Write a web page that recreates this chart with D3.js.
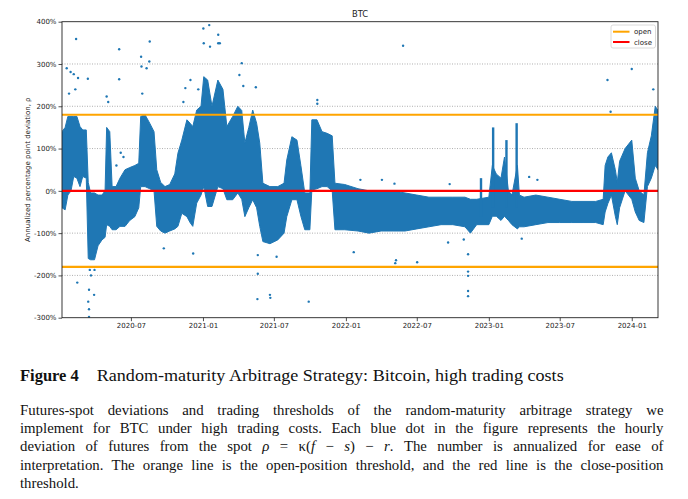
<!DOCTYPE html>
<html><head><meta charset="utf-8">
<script src="https://cdn.jsdelivr.net/npm/d3@7"></script>
<style>body{margin:0;background:#fff}svg{display:block}</style>
</head><body><svg id="c" width="688" height="499"></svg>
<script>
// ---------- data ----------
const bandDates = ["2020-01-07","2020-01-15","2020-01-22","2020-01-30","2020-02-06","2020-02-14","2020-02-22","2020-02-29","2020-03-09","2020-03-14","2020-03-20","2020-03-30","2020-04-08","2020-04-18","2020-04-26","2020-04-30","2020-05-08","2020-05-14","2020-05-24","2020-06-03","2020-06-16","2020-06-28","2020-07-11","2020-07-21","2020-07-26","2020-08-06","2020-08-18","2020-08-29","2020-09-05","2020-09-15","2020-09-26","2020-10-08","2020-10-21","2020-10-29","2020-11-08","2020-11-21","2020-11-29","2020-12-06","2020-12-16","2020-12-27",
"2021-01-03","2021-01-13","2021-01-24","2021-02-08","2021-02-21","2021-03-03","2021-03-18","2021-03-31","2021-04-10","2021-04-18","2021-04-28","2021-05-08","2021-05-18","2021-05-26","2021-06-03","2021-06-21","2021-07-11","2021-07-27","2021-08-03","2021-08-16","2021-08-29","2021-09-08","2021-09-18","2021-10-01","2021-10-06","2021-10-19","2021-11-01","2021-11-14","2021-11-27","2021-12-04","2021-12-29",
"2022-02-01","2022-03-01","2022-04-01","2022-05-01","2022-06-01","2022-07-01","2022-08-01","2022-09-01","2022-10-01","2022-11-01","2022-11-15","2022-12-01","2023-01-01","2023-01-10","2023-01-20","2023-02-01","2023-02-10","2023-02-20","2023-03-01","2023-03-15","2023-03-20","2023-04-01","2023-05-01","2023-06-01","2023-07-01","2023-08-01","2023-09-01","2023-10-01","2023-10-20","2023-10-25","2023-11-01","2023-11-10","2023-11-20","2023-11-25","2023-12-01","2023-12-15","2024-01-01","2024-01-10","2024-01-20","2024-02-01","2024-02-10","2024-02-20","2024-03-01","2024-03-08"];
const bandHigh = [140,150,176,176,176,176,152,144,144,20,-5,-5,-10,-10,0,150,140,10,10,30,50,55,60,65,176,180,160,140,50,20,10,15,40,89,120,168,160,152,191,200,
270,262,200,262,240,152,176,200,190,113,150,191,160,113,18,10,10,18,73,128,120,60,-5,-5,168,168,140,136,130,18,15,
5,0,0,0,-5,-10,-15,-15,-15,-15,-20,-20,-15,60,40,30,80,0,-10,60,-10,-15,-10,-15,-20,-25,-25,-25,-20,60,80,90,50,20,70,100,120,30,0,-10,90,130,200,190];
const bandLow = [-40,-45,-10,0,34,30,10,34,30,-160,-163,-163,-130,-116,-110,-80,-84,-92,-92,-84,-84,-70,-61,-40,10,10,5,0,-84,-95,-100,-95,-90,-84,-53,-61,-75,-84,-29,-10,
10,-37,-37,10,5,-21,-21,-5,-20,-61,-40,-21,-40,-84,-120,-125,-116,-100,-61,-21,-21,-60,-92,-92,2,5,10,10,0,-92,-92,
-95,-100,-95,-95,-95,-90,-85,-80,-80,-85,-100,-80,-80,-60,-60,-70,-60,-70,-80,-90,-85,-85,-80,-75,-75,-75,-75,-75,-80,-50,-30,-10,-60,-80,-40,0,-20,-50,-70,-75,10,30,60,50];

const spikeDates = ["2022-12-12","2023-01-12","2023-02-15","2023-03-13"];
const spikeTop = [30,150,120,160];
const spikeBottom = [-60,-40,-40,-40];

const outlierDates = ["2020-02-12","2020-01-19","2020-01-29","2020-02-06","2020-02-17","2020-03-13","2020-02-15","2020-03-18","2020-03-16","2020-03-14","2020-03-16","2020-03-16","2020-03-29","2020-03-30","2020-03-21","2020-06-01","2020-06-01","2020-04-30","2020-07-27","2020-08-18","2020-07-28","2020-08-10","2020-08-17","2020-11-17","2020-11-30","2020-09-23","2020-12-07","2021-01-02","2021-01-17","2021-01-03","2021-02-09","2021-02-09","2021-01-19","2021-02-13","2021-04-10","2021-04-04","2021-05-16","2021-04-14","2021-05-21","2021-05-20","2021-06-21","2021-06-22","2021-09-28","2021-07-08","2021-10-20","2021-10-20","2022-05-27","2022-01-21","2022-05-07","2022-05-09","2022-07-02","2022-11-09","2022-11-09","2022-11-09","2022-11-09","2022-11-09","2023-10-31","2023-11-08","2024-01-01","2024-02-25","2022-10-29","2023-03-26","2022-09-19","2021-05-21","2020-06-05","2020-06-12","2020-05-25","2022-02-07","2022-04-03","2022-05-05","2022-09-23","2023-04-14","2023-05-05","2020-01-25","2020-02-10","2020-05-04","2020-07-30","2020-11-12","2020-12-20"];
const outlierValues = [359,290,281,276,267,265,-217,-187,-234,-262,-280,-298,-246,-187,-200,335,264,223,317,353,294,290,306,243,262,-136,-148,384,392,349,369,349,341,349,302,274,245,248,-196,-256,-246,-253,-262,-156,215,206,343,-145,-171,-164,-169,-191,-201,-237,-249,-150,262,187,288,240,-115,-113,-122,-152,90,80,60,26,26,17,16,33,26,230,240,210,230,210,240];

const thresholdNames = ["open","close"];
const thresholdLevels = [180, 0];
const thresholdColors = ["#ffa500","#ff0000"];

const yTicks = [-300,-200,-100,0,100,200,300,400];
const xTickLabels = ["2020-07","2021-01","2021-07","2022-01","2022-07","2023-01","2023-07","2024-01"];

const chartTitle = "BTC";
const yLabel = "Annualized percentage point deviation, ρ";
const headingBold = "Figure 4";
const headingText = "Random-maturity Arbitrage Strategy: Bitcoin, high trading costs";
const captionLines = [
  "Futures-spot deviations and trading thresholds of the random-maturity arbitrage strategy we",
  "implement for BTC under high trading costs.  Each blue dot in the figure represents the hourly",
  "deviation of futures from the spot _ρ_ = κ(_f_ − _s_) − _r_.  The number is annualized for ease of",
  "interpretation. The orange line is the open-position threshold, and the red line is the close-position",
  "threshold."
];

// ---------- drawing ----------
const parse = d3.utcParse("%Y-%m-%d");
const svg = d3.select("#c");
const L = 62, R = 658, T = 21.7, B = 317.7;
const x = d3.scaleUtc().domain([parse("2020-01-07"), parse("2024-03-08")]).range([L, R]);
const y = d3.scaleLinear().domain([-300, 400]).range([B, T]);
const blue = "#1f77b4";

svg.append("defs").append("clipPath").attr("id","clip")
  .append("rect").attr("x",L).attr("y",T).attr("width",R-L).attr("height",B-T);

// grid
svg.append("g").selectAll("line").data(yTicks.filter(v => v > -300 && v < 400)).join("line")
  .attr("x1",L).attr("x2",R).attr("y1",d=>y(d)).attr("y2",d=>y(d))
  .attr("stroke","#9a9a9a").attr("stroke-width",0.8).attr("stroke-dasharray","1,1.5");

const plot = svg.append("g").attr("clip-path","url(#clip)");
const band = bandDates.map((d,i)=>({d:parse(d),hi:bandHigh[i],lo:bandLow[i]}));
const area = d3.area().x(p=>x(p.d)).y0(p=>y(p.lo)).y1(p=>y(p.hi)).curve(d3.curveLinear);
plot.append("path").datum(band).attr("d",area).attr("fill",blue)
  .attr("stroke",blue).attr("stroke-width",1).attr("stroke-linejoin","round");

plot.append("g").selectAll("rect").data(spikeDates.map((d,i)=>({d:parse(d),t:spikeTop[i],b:spikeBottom[i]}))).join("rect")
  .attr("x",p=>x(p.d)-1.2).attr("width",2.4).attr("y",p=>y(p.t)).attr("height",p=>y(p.b)-y(p.t)).attr("fill",blue);

plot.append("g").selectAll("circle").data(outlierDates.map((d,i)=>({d:parse(d),v:outlierValues[i]}))).join("circle")
  .attr("cx",p=>x(p.d)).attr("cy",p=>y(p.v)).attr("r",1.2).attr("fill",blue);

// thresholds
const thrLines = [
  {v: thresholdLevels[0], c: thresholdColors[0]},
  {v: -thresholdLevels[0], c: thresholdColors[0]},
  {v: thresholdLevels[1], c: thresholdColors[1]}
];
svg.append("g").selectAll("line").data(thrLines).join("line")
  .attr("x1",L).attr("x2",R).attr("y1",d=>y(d.v)).attr("y2",d=>y(d.v))
  .attr("stroke",d=>d.c).attr("stroke-width",2.2);

// frame
svg.append("rect").attr("x",L).attr("y",T).attr("width",R-L).attr("height",B-T)
  .attr("fill","none").attr("stroke","#222").attr("stroke-width",0.9);

// axes
const fmtPct = d => d + "%";
const yAxis = d3.axisLeft(y).tickValues(yTicks).tickFormat(fmtPct).tickSize(3.5).tickPadding(2);
const ga = svg.append("g").attr("transform",`translate(${L},0)`).call(yAxis);
ga.select(".domain").remove();
ga.selectAll("text").attr("font-family","DejaVu Sans").attr("font-size",7).attr("fill","#222");
ga.selectAll("line").attr("stroke","#222").attr("stroke-width",0.8);

const xTickDates = xTickLabels.map(s => parse(s + "-01"));
const xAxis = d3.axisBottom(x).tickValues(xTickDates).tickFormat(d3.utcFormat("%Y-%m")).tickSize(3.5).tickPadding(2);
const gx = svg.append("g").attr("transform",`translate(0,${B})`).call(xAxis);
gx.select(".domain").remove();
gx.selectAll("text").attr("font-family","DejaVu Sans").attr("font-size",7).attr("fill","#222");
gx.selectAll("line").attr("stroke","#222").attr("stroke-width",0.8);

// title & y label
svg.append("text").attr("x",(L+R)/2).attr("y",17.3).attr("text-anchor","middle")
  .attr("font-family","DejaVu Sans").attr("font-size",8.4).attr("fill","#222").text(chartTitle);
svg.append("text").attr("transform",`translate(30,${(T+B)/2}) rotate(-90)`).attr("text-anchor","middle")
  .attr("font-family","DejaVu Sans").attr("font-size",7).attr("fill","#222").text(yLabel);

// legend
const lg = svg.append("g");
lg.append("rect").attr("x",611).attr("y",25).attr("width",44.5).attr("height",23).attr("rx",2)
  .attr("fill","#fff").attr("fill-opacity",0.85).attr("stroke","#d0d0d0").attr("stroke-width",0.8);
thresholdNames.forEach((n,i)=>{
  const yy = 31.7 + i*10.3;
  lg.append("line").attr("x1",613).attr("x2",629.5).attr("y1",yy).attr("y2",yy)
    .attr("stroke",thresholdColors[i]).attr("stroke-width",2);
  lg.append("text").attr("x",634).attr("y",yy+2.5).attr("font-family","DejaVu Sans")
    .attr("font-size",7).attr("fill","#222").text(n);
});

// caption
const serif = "Liberation Serif";
svg.append("text").attr("x",20).attr("y",381).attr("font-family",serif)
  .attr("font-weight","bold").attr("font-size",16.5).attr("fill","#111").text(headingBold);
svg.append("text").attr("x",96.7).attr("y",381).attr("font-family",serif)
  .attr("font-size",16.5).attr("fill","#111").attr("textLength",467).attr("lengthAdjust","spacingAndGlyphs").text(headingText);

const capLeft = 20, capRight = 663.5, capTop = 414.8, capStep = 18.3, capSize = 14.8;
captionLines.forEach((line, li) => {
  const words = line.split(/\s+/);
  const nodes = words.map(w => {
    const t = svg.append("text").attr("y", capTop + li*capStep).attr("font-family",serif)
      .attr("font-size",capSize).attr("fill","#111");
    const segs = w.split("_");
    segs.forEach((s,si) => { if (s.length) t.append("tspan").attr("font-style", si%2 ? "italic" : "normal").text(s); });
    return t;
  });
  const widths = nodes.map(n => n.node().getComputedTextLength());
  const total = d3.sum(widths);
  const last = li === captionLines.length - 1;
  const gap = last ? capSize*0.25 : (capRight - capLeft - total) / (words.length - 1);
  let cx = capLeft;
  nodes.forEach((n,i) => { n.attr("x", cx); cx += widths[i] + gap; });
});
</script>
</body></html>
